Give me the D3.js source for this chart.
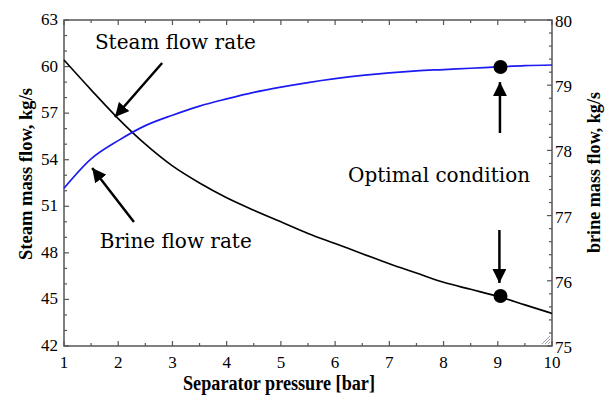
<!DOCTYPE html>
<html><head><meta charset="utf-8">
<script src="https://cdn.jsdelivr.net/npm/d3@7"></script>
<style>body{margin:0;background:#fff}svg{display:block}</style>
</head><body><svg id="c" width="608" height="397"></svg>
<script>
// ---- data ----
const pressure = [1,1.5,2,2.5,3,3.5,4,4.5,5,5.5,6,6.5,7,7.5,8,8.5,9,9.5,10];
const steamFlow = [60.42,58.5,56.65,55.0,53.6,52.5,51.55,50.75,50.0,49.25,48.6,47.95,47.3,46.7,46.1,45.65,45.2,44.65,44.1];
const brineFlow = [77.42,77.87,78.15,78.38,78.54,78.68,78.79,78.89,78.97,79.04,79.10,79.15,79.19,79.22,79.24,79.26,79.28,79.30,79.31];
const xTicks = [1,2,3,4,5,6,7,8,9,10];
const leftTicks = [42,45,48,51,54,57,60,63];
const rightTicks = [75,76,77,78,79,80];
const optimalX = 9.05;
const optimalSteam = 45.22;
const optimalBrine = 79.28;
const labels = [
  {text:"Steam flow rate", x:1.57, y:61.1},
  {text:"Brine flow rate", x:1.66, y:48.3},
  {text:"Optimal condition", x:6.24, y:52.56}
];
const arrows = [
  {x1:2.81,y1:60.23,x2:1.94,y2:56.75},
  {x1:2.29,y1:49.99,x2:1.52,y2:53.47},
  {x1:9.04,y1:55.72,x2:9.04,y2:59.0},
  {x1:9.03,y1:49.47,x2:9.03,y2:46.06}
];

// ---- layout ----
const svg = d3.select("#c");
const L=64, R=552, T=20, B=346;
const x = d3.scaleLinear().domain([1,10]).range([L,R]);
const yL = d3.scaleLinear().domain([42,63]).range([B,T]);
const yR = d3.scaleLinear().domain([75,80]).range([B,T]);
const axisColor = "#555";
const tickFont = "'Liberation Serif', 'Times New Roman', serif";

// minor/major ticks (inward)
const g = svg.append("g");
function tick(x1,y1,x2,y2){g.append("line").attr("x1",x1).attr("y1",y1).attr("x2",x2).attr("y2",y2).attr("stroke",axisColor).attr("stroke-width",1.2);}
d3.range(1,10.01,0.5).forEach(v=>{
  const len = Number.isInteger(v)?5:3;
  tick(x(v),B,x(v),B-len); tick(x(v),T,x(v),T+len);
});
d3.range(42,63.01,1).forEach(v=>{
  const len = (v%3===0)?5:3;
  tick(L,yL(v),L+len,yL(v));
});
d3.range(75,80.01,0.2).forEach(v=>{
  const major = Math.abs(v-Math.round(v))<1e-6;
  tick(R,yR(v),R-(major?5:3),yR(v));
});
// frame
svg.append("rect").attr("x",L).attr("y",T).attr("width",R-L).attr("height",B-T)
  .attr("fill","none").attr("stroke",axisColor).attr("stroke-width",1.5);

// tick labels
svg.append("g").selectAll("text").data(xTicks).join("text")
  .attr("x",d=>x(d)).attr("y",368).attr("text-anchor","middle")
  .attr("font-family",tickFont).attr("font-size",17).text(d=>d);
svg.append("g").selectAll("text").data(leftTicks).join("text")
  .attr("x",58).attr("y",d=>yL(d)+5).attr("text-anchor","end")
  .attr("font-family",tickFont).attr("font-size",17).text(d=>d);
svg.append("g").selectAll("text").data(rightTicks).join("text")
  .attr("x",555).attr("y",d=>yR(d)+7).attr("text-anchor","start")
  .attr("font-family",tickFont).attr("font-size",17).text(d=>d);

// axis titles
svg.append("text").attr("x",183).attr("y",390)
  .attr("textLength",192).attr("lengthAdjust","spacingAndGlyphs")
  .attr("font-family",tickFont).attr("font-weight","bold").attr("font-size",20)
  .text("Separator pressure [bar]");
svg.append("text").attr("transform","translate(32,260) rotate(-90)")
  .attr("textLength",172).attr("lengthAdjust","spacingAndGlyphs")
  .attr("font-family",tickFont).attr("font-weight","bold").attr("font-size",19)
  .text("Steam mass flow, kg/s");
svg.append("text").attr("transform","translate(600,253) rotate(-90)")
  .attr("textLength",161).attr("lengthAdjust","spacingAndGlyphs")
  .attr("font-family",tickFont).attr("font-weight","bold").attr("font-size",19)
  .text("brine mass flow, kg/s");

// curves
const steamLine = d3.line().x((d,i)=>x(pressure[i])).y(d=>yL(d)).curve(d3.curveMonotoneX);
const brineLine = d3.line().x((d,i)=>x(pressure[i])).y(d=>yR(d)).curve(d3.curveMonotoneX);
svg.append("path").attr("d",steamLine(steamFlow)).attr("fill","none").attr("stroke","#000").attr("stroke-width",1.6);
svg.append("path").attr("d",brineLine(brineFlow)).attr("fill","none").attr("stroke","#1c1cf2").attr("stroke-width",1.7);

// optimal points
svg.append("circle").attr("cx",x(optimalX)).attr("cy",yR(optimalBrine)).attr("r",7).attr("fill","#000");
svg.append("circle").attr("cx",x(optimalX)).attr("cy",yL(optimalSteam)).attr("r",7).attr("fill","#000");

// arrows
svg.append("defs").append("marker").attr("id","ah").attr("viewBox","0 0 10 10")
  .attr("refX",10).attr("refY",5).attr("markerWidth",14).attr("markerHeight",14)
  .attr("markerUnits","userSpaceOnUse").attr("orient","auto")
  .append("path").attr("d","M0,0 L10,5 L0,10 Z").attr("fill","#000");
svg.append("g").selectAll("line").data(arrows).join("line")
  .attr("x1",d=>x(d.x1)).attr("y1",d=>yL(d.y1)).attr("x2",d=>x(d.x2)).attr("y2",d=>yL(d.y2))
  .attr("stroke","#000").attr("stroke-width",2.5).attr("marker-end","url(#ah)");

// annotation labels
svg.append("g").selectAll("text").data(labels).join("text")
  .attr("x",d=>x(d.x)).attr("y",d=>yL(d.y))
  .attr("font-family","'DejaVu Serif', serif").attr("font-size",20).text(d=>d.text);

// corner grip
const grip = svg.append("g").attr("stroke","#888").attr("stroke-width",0.8);
[4,7,10].forEach(k=>grip.append("line").attr("x1",R-2).attr("y1",B-k).attr("x2",R-k).attr("y2",B-2));
</script></body></html>
